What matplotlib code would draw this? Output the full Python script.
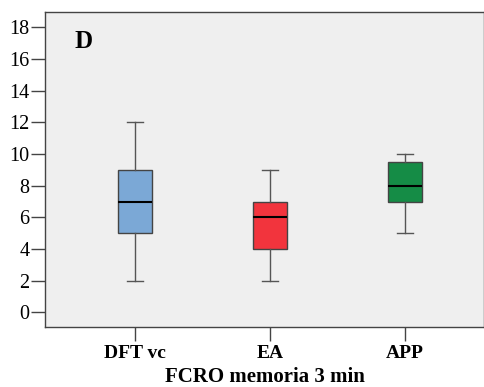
import matplotlib
matplotlib.use("Agg")
import matplotlib.pyplot as plt

# box plot summaries
groups = ["DFT vc", "EA", "APP"]
whisker_low = [2, 2, 5]
q1 = [5, 4, 7]
medians = [7, 6, 8]
q3 = [9, 7, 9.5]
whisker_high = [12, 9, 10]
colors = ["#7BA8D6", "#F2343D", "#158C46"]
y_ticks = list(range(0, 19, 2))

plt.rcParams['font.family'] = ['Liberation Serif', 'DejaVu Serif']

stats = []
for i, name in enumerate(groups):
    stats.append({"label": name, "whislo": whisker_low[i], "q1": q1[i],
                  "med": medians[i], "q3": q3[i], "whishi": whisker_high[i]})

fig = plt.figure(figsize=(4.84, 3.87), dpi=100)
ax = fig.add_axes([0.093, 0.154, 0.907, 0.814])
ax.set_facecolor("#EFEFEF")

bp = ax.bxp(stats, positions=[1, 2, 3], widths=0.25, capwidths=0.12,
            showfliers=False, patch_artist=True,
            boxprops=dict(edgecolor="#444444", linewidth=1.0),
            whiskerprops=dict(color="#555555", linewidth=1.0),
            capprops=dict(color="#555555", linewidth=1.0),
            medianprops=dict(color="black", linewidth=1.5))
for patch, c in zip(bp["boxes"], colors):
    patch.set_facecolor(c)

ax.set_xlim(0.333, 3.585)
ax.set_ylim(-0.95, 18.95)
ax.set_yticks(y_ticks)
ax.set_yticklabels([str(v) for v in y_ticks], fontsize=14.5)
ax.set_xticks([1, 2, 3])
ax.set_xticklabels(groups, fontsize=14, fontweight="bold")
ax.tick_params(axis="both", direction="out", length=10, width=1, color="#444444")
ax.tick_params(axis="x", pad=3)
ax.tick_params(axis="y", pad=1)

for side in ["left", "bottom", "top", "right"]:
    ax.spines[side].set_color("#444444")
    ax.spines[side].set_linewidth(1.0)

ax.set_xlabel("FCRO memoria 3 min", fontsize=15, fontweight="bold", labelpad=3)
ax.text(0.068, 0.906, "D", transform=ax.transAxes, fontsize=18, fontweight="bold",
        ha="left", va="center")

fig.savefig("out.png", dpi=100)
